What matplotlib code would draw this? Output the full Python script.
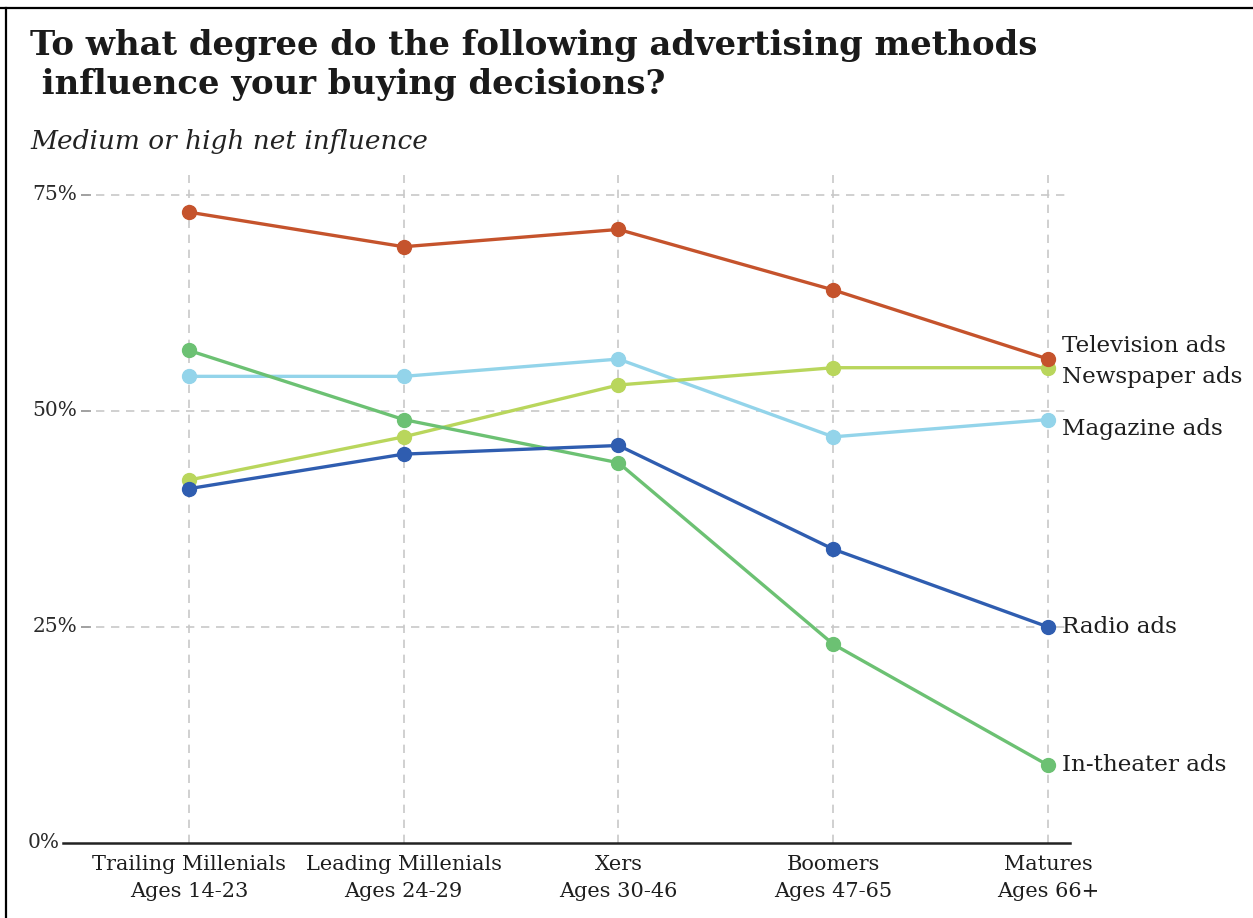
import numpy as np
import matplotlib.pyplot as plt
from matplotlib.lines import Line2D

groups = ["Trailing Millenials", "Leading Millenials", "Xers", "Boomers", "Matures"]
ages = ["Ages 14-23", "Ages 24-29", "Ages 30-46", "Ages 47-65", "Ages 66+"]

television = [73, 69, 71, 64, 56]
newspaper = [42, 47, 53, 55, 55]
magazine = [54, 54, 56, 47, 49]
radio = [41, 45, 46, 34, 25]
theater = [57, 49, 44, 23, 9]

series = [
    ("Magazine ads", magazine, "#93d4ea", 9),
    ("Newspaper ads", newspaper, "#b9d65c", 9),
    ("In-theater ads", theater, "#6cc173", 0),
    ("Radio ads", radio, "#2f5db0", 0),
    ("Television ads", television, "#c5532c", -13),
]

yticks = [0, 25, 50, 75]

plt.rcParams["font.family"] = ["DejaVu Serif"]

fig = plt.figure(figsize=(12.53, 9.18), dpi=100)
ax = fig.add_axes([63 / 1253, 1 - 843 / 918, (1070 - 63) / 1253, (843 - 175) / 918])

x = np.arange(len(groups))
ax.set_xlim(-0.586, 4.102)
ax.set_ylim(0, 77.3)

grid_kw = dict(color="#c8c8c8", lw=1.2, linestyle=(0, (5, 4)), zorder=1)
for xi in x:
    ax.axvline(xi, **grid_kw)
for yt in yticks[1:]:
    ax.hlines(yt, -0.5, 4.102, **grid_kw)
    ax.hlines(yt, -0.5, -0.455, color="#999999", lw=1.2, zorder=1)

for name, vals, color, dy in series:
    ax.plot(x, vals, color=color, lw=2.4, marker="o", markersize=10,
            solid_capstyle="round", zorder=3)
    ax.annotate(name, (x[-1], vals[-1]), xytext=(10, -dy * 0.72),
                textcoords="offset points", va="center", ha="left",
                fontsize=16.6, color="#1e1e1e", annotation_clip=False)

for yt in yticks:
    xpos = -0.603 if yt == 0 else -0.52
    ax.text(xpos, yt, f"{yt}%", ha="right", va="center", fontsize=14.5,
            color="#2a2a2a")

ax.set_xticks(x)
ax.set_xticklabels([f"{g}\n{a}" for g, a in zip(groups, ages)],
                   fontsize=15, color="#1e1e1e", linespacing=1.5)
ax.tick_params(axis="x", length=0, pad=9)
ax.set_yticks([])
for side in ["top", "right", "left"]:
    ax.spines[side].set_visible(False)
ax.spines["bottom"].set_color("#222222")
ax.spines["bottom"].set_linewidth(1.8)

fig.text(30 / 1253, 1 - 65 / 918,
         "To what degree do the following advertising methods\n influence your buying decisions?",
         fontsize=24.4, fontweight="bold", color="#1a1a1a", va="center",
         linespacing=1.22)
fig.text(30 / 1253, 1 - 142 / 918, "Medium or high net influence",
         fontsize=19, style="italic", color="#222222", va="center")

# thin frame on top and left edges
fig.add_artist(Line2D([0, 1], [1 - 8 / 918, 1 - 8 / 918], color="black", lw=1.6))
fig.add_artist(Line2D([6 / 1253, 6 / 1253], [0, 1 - 8 / 918], color="black", lw=1.6))

fig.savefig("out.png", dpi=100)
